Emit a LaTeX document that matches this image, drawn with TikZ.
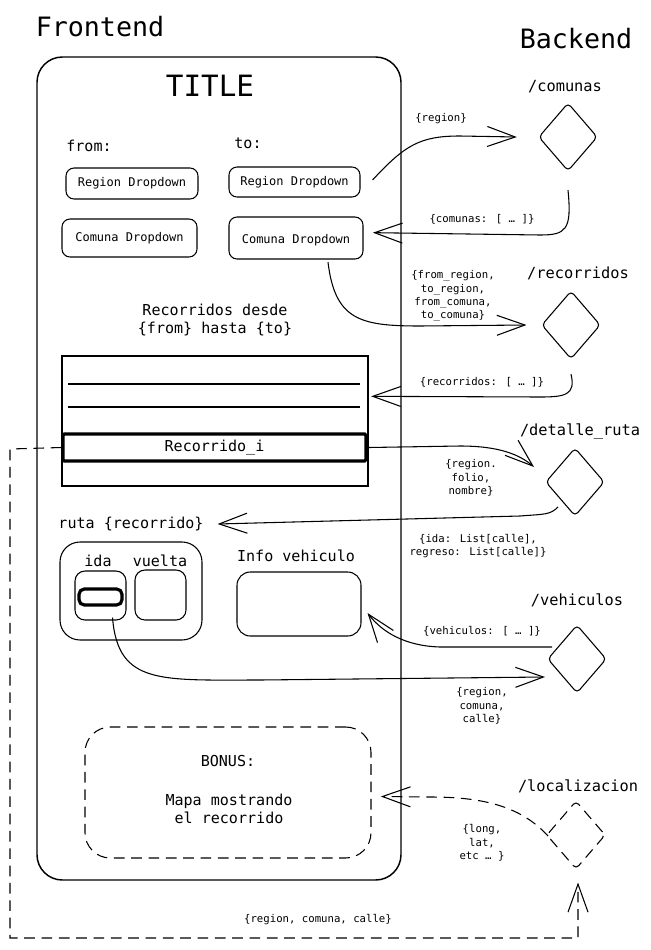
\documentclass[tikz,border=0pt]{standalone}
\usepackage{fontspec}
\setmainfont{DejaVu Sans Mono}
\usetikzlibrary{arrows.meta,shapes.geometric,fit,calc}
\begin{document}
\begin{tikzpicture}[x=0.75pt,y=-0.75pt,
  box/.style={draw, line width=0.8pt, inner sep=0pt},
  dia/.style={draw, diamond, line width=0.8pt, inner sep=0pt, rounded corners=3pt, minimum width=44pt, minimum height=51pt},
  fbig/.style={font=\fontsize{20}{24}\selectfont},
  ftitle/.style={font=\fontsize{22}{26}\selectfont},
  fmed/.style={font=\fontsize{11.3}{14}\selectfont, align=center},
  fdd/.style={font=\fontsize{9}{11}\selectfont},
  fend/.style={font=\fontsize{11.5}{14}\selectfont},
  fsm/.style={font=\fontsize{8}{10}\selectfont, align=center},
  arr/.style={-{Straight Barb[length=21pt,width=15pt,line width=0.8pt]}, line width=0.8pt},
  dsh/.style={dash pattern=on 8pt off 5pt},
]
\useasboundingbox (0,0) rectangle (650,950);

% ---------- frontend ----------
\node[box, rounded corners=19pt, line width=1.1pt, fit={(37,57)(401,880)}] (frame) {};
\node[fbig] (fe) at (100,27) {Frontend};
\node[fbig] (be) at (576,39) {Backend};
\node[ftitle] (title) at (210,86) {TITLE};
\node[fmed] (from) at (89,146) {from:};
\node[fmed] (to) at (248,143) {to:};

\node[box, rounded corners=6pt, fit={(66,168)(198,199)}] (rdl) {};
\node[fdd] (rdlt) at (rdl) {Region Dropdown};
\node[box, rounded corners=6pt, fit={(229,167)(360,197)}] (rdr) {};
\node[fdd] (rdrt) at (rdr) {Region Dropdown};
\node[box, rounded corners=6pt, fit={(62,219)(197,257)}] (cdl) {};
\node[fdd] (cdlt) at (cdl) {Comuna Dropdown};
\node[box, rounded corners=6pt, fit={(229,217)(363,259)}] (cdr) {};
\node[fdd] (cdrt) at ([yshift=-2pt]cdr.center) {Comuna Dropdown};

\node[fmed] (rdesde) at (215,320) {Recorridos desde\\\{from\} hasta \{to\}};
\node[box, fit={(62,356)(368,486)}] (list) {};
\draw[line width=0.9pt] (68,384) -- (360,384);
\draw[line width=0.9pt] (68,407) -- (360,407);
\node[box, line width=2.4pt, rounded corners=1pt, fit={(63,434)(366,461)}] (rec) {};
\node[fmed] (rect) at (rec) {Recorrido\_i};

\node[fmed] (ruta) at (131,524) {ruta \{recorrido\}};
\node[box, rounded corners=15pt, fit={(60,542)(202,640)}] (grp) {};
\node[fmed] (ida) at (98,561) {ida};
\node[fmed] (vuelta) at (160,561) {vuelta};
\node[box, rounded corners=7.5pt, fit={(75,571)(126,620)}] (idab) {};
\node[box, rounded corners=7.5pt, fit={(135,570)(186,620)}] (vueb) {};
\node[box, line width=2.4pt, rounded corners=4pt, fit={(79,589)(122,605)}] (sel) {};

\node[fmed] (infot) at (296,556) {Info vehiculo};
\node[box, rounded corners=10pt, fit={(237,572)(361,636)}] (info) {};

\node[box, dsh, rounded corners=19pt, fit={(85,727)(371,858)}] (bonus) {};
\node[fmed] (bonust) at (228,761) {BONUS:};
\node[fmed] (mapa) at (229,809) {Mapa mostrando\\el recorrido};

% ---------- backend ----------
\node[fend] (comt) at (565,87) {/comunas};
\node[dia] (comunas) at (568,137) {};
\node[fend] (rect2) at (578,273) {/recorridos};
\node[dia] (recorridos) at (571,325) {};
\node[fend] (dett) at (580,431) {/detalle\_ruta};
\node[dia] (detalle) at (575,482) {};
\node[fend] (veht) at (577,600) {/vehiculos};
\node[dia] (veh) at (577,659) {};
\node[fend] (loct) at (578,786) {/localizacion};
\node[dia, dsh] (loc) at (576,835) {};

% ---------- connectors ----------
\draw[arr] ([xshift=9pt,yshift=1.5pt]rdr.east) .. controls (405,145) and (420,136) .. (460,136) -- ([xshift=-16pt]comunas.west);
\node[fsm] (l1) at (441,119) {\{region\}};

\draw[arr] ([yshift=-14pt]comunas.south) .. controls (572,230) and (566,235) .. (540,235) -- ([xshift=7pt,yshift=4pt]cdr.east);
\node[fsm] (l2) at (482,219) {\{comunas: [ … ]\}};

\draw[arr] ([xshift=24pt,yshift=-2pt]cdr.south) .. controls (335,320) and (360,326) .. (420,326) -- ([xshift=-11pt]recorridos.west);
\node[fsm] (l3) at (453,296) {\{from\_region,\\to\_region,\\from\_comuna,\\to\_comuna\}};

\draw[arr] ([yshift=-11pt]recorridos.south) .. controls (576,395) and (565,397) .. (540,397) -- ([xshift=2pt,yshift=18.5pt]list.east);
\node[fsm] (l4) at (482,382) {\{recorridos: [ … ]\}};

\draw[arr] ([xshift=1pt]rec.east) -- (460,446) .. controls (500,446) and (520,455) .. ($(detalle)+(-41,-15)$);
\node[fsm] (l5) at (471,478) {\{region.\\folio,\\nombre\}};

\draw[arr] ($(detalle)+(-17,25)$) .. controls (550,515) and (545,514) .. (520,516) -- ([xshift=7pt]ruta.east);
\node[fsm] (l6) at (478,546) {\{ida: List[calle],\\regreso: List[calle]\}};

\draw[arr] ($(veh)+(-25,-12)$) -- (440,647) .. controls (405,646) and (382,632) .. ([shift={(6,9)}]info.east);
\node[fsm] (l7) at (482,631) {\{vehiculos: [ … ]\}};

\draw[arr] ($(idab.south)+(12,-3)$) .. controls (118,685) and (160,680) .. (260,680) -- ($(veh)+(-32,18)$);
\node[fsm] (l8) at (482,706) {\{region,\\comuna,\\calle\}};

\draw[arr, dsh] ($(loc)+(-28,1)$) .. controls (520,805) and (480,797) .. (430,797) -- ([xshift=7pt,yshift=-3pt]bonus.east);
\node[fsm] (l9) at (482,843) {\{long,\\lat,\\etc … \}};

\draw[arr, dsh] (rec.west) -- (10,449) -- (10,938) -- (578,938) -- ([shift={(2,13)}]loc.south);
\node[fsm] (l10) at (318,920) {\{region, comuna, calle\}};
\end{tikzpicture}
\end{document}
